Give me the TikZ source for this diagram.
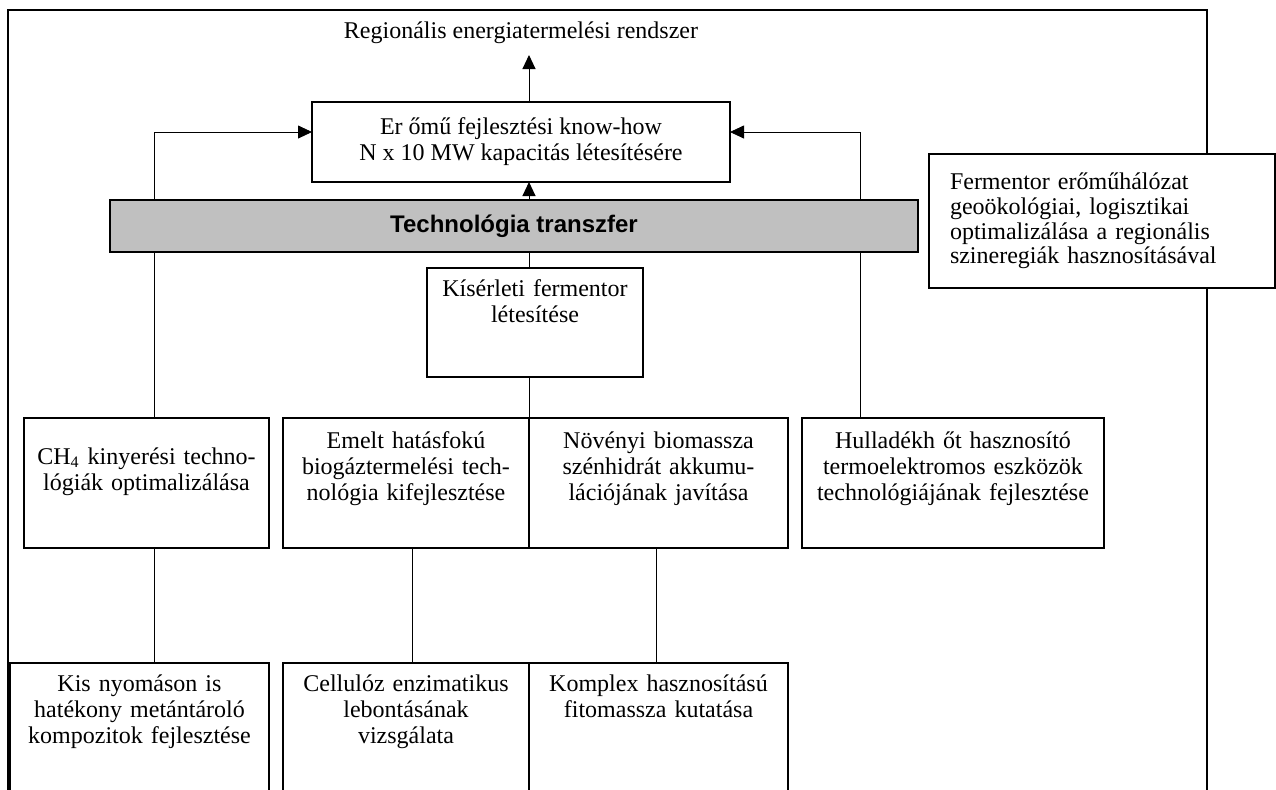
\documentclass[tikz,border=0pt]{standalone}
\usepackage{fontspec}
\setmainfont{Liberation Serif}
\newfontfamily\arialfont{Liberation Sans}
\usepackage{tikz}
\usetikzlibrary{positioning,arrows.meta,backgrounds}
\definecolor{bargray}{RGB}{192,192,192}
\tikzset{block/.style={draw,line width=0.6pt,inner sep=0pt,outer sep=0pt,align=center,font=\fontsize{12}{13}\selectfont},
         cell/.style={block,text width=#1,text height=15pt,text depth=50pt},
         lowcell/.style={cell=#1,text height=14pt,text depth=56pt},
         line/.style={-{Triangle[length=7pt,width=6.5pt]}}
}

\begin{document}
\begin{tikzpicture}[x=1pt,y=1pt,line width=0.5pt]
  \useasboundingbox (0,0) rectangle (638,-394.5);
  \draw[line width=1pt] (4,-400) |- (603.5,-5) -- (603.5,-400);
  \node[block,fill=bargray,minimum width=404pt,minimum height=26pt,anchor=north west,
        font=\arialfont\bfseries\fontsize{12}{13}\selectfont] (transfer) at (55,-100) {Technológia transzfer};
  \node[block,minimum width=209pt,minimum height=40pt,above=9pt of transfer,xshift=3.5pt] (eromu)
       {Er őmű fejlesztési know-how\\N x 10 MW kapacitás létesítésére};
  \node[block,draw=none,inner sep=5.5pt,above=23.5pt of eromu] (title) {Regionális energiatermelési rendszer};
  \node[cell=108pt,text height=14pt,text depth=40.5pt,below=8pt of transfer,xshift=10.5pt] (kiserleti)
       {Kísérleti fermentor\\létesítése};
  \node[block,fill=white,align=left,text width=152pt,inner xsep=10.5pt,minimum height=67pt,anchor=north west,
        font=\fontsize{12}{12.4}\selectfont] (fermentor) at (464.5,-77)
       {Fermentor erőműhálózat\\geoökológiai, logisztikai\\optimalizálása a regionális\\szineregiák hasznosításával};
  % middle row
  \node[cell=122.5pt,text height=23pt,text depth=42pt,anchor=north west] (ch4) at (12,-209)
       {CH\textsubscript{4} kinyerési techno-\\lógiák optimalizálása};
  \node[cell=123pt,right=7pt of ch4] (emelt) {Emelt hatásfokú\\biogáztermelési tech-\\nológia kifejlesztése};
  \node[cell=129.5pt,right=0pt of emelt] (novenyi) {Növényi biomassza\\szénhidrát akkumu-\\lációjának javítása};
  \node[cell=151pt,right=7pt of novenyi] (hulladek) {Hulladékh őt hasznosító\\termoelektromos eszközök\\technológiájának fejlesztése};
  % bottom row
  \node[lowcell=123pt,below=57.5pt of emelt] (cellulo) {Cellulóz enzimatikus\\lebontásának\\vizsgálata};
  \node[lowcell=129.5pt,right=0pt of cellulo] (komplex) {Komplex hasznosítású\\fitomassza kutatása};
  \node[lowcell=129.5pt,left=7pt of cellulo] (kisnyomas) {Kis nyomáson is\\hatékony metántároló\\kompozitok fejlesztése};

  \draw[line] (transfer.north -| emelt.north east) -- (eromu.south -| emelt.north east);
  \draw[line] (eromu.north -| emelt.north east) -- (title.south -| emelt.north east);
  \draw (kiserleti.north -| emelt.north east) -- (transfer.south -| emelt.north east);
  \draw (kiserleti.south -| emelt.north east) -- (emelt.north east);
  \begin{scope}[on background layer]
    \draw[line] ([xshift=3.75pt]ch4.north) |- ([yshift=5pt]eromu.west);
    \draw[line] ([xshift=-46.5pt]hulladek.north) |- ([yshift=5pt]eromu.east);
  \end{scope}
  \draw ([xshift=3.75pt]ch4.south) -- ([xshift=3.75pt]ch4.south |- kisnyomas.north);
  \draw ([xshift=3pt]emelt.south) -- ([xshift=3pt]emelt.south |- cellulo.north);
  \draw ([xshift=-1.25pt]novenyi.south) -- ([xshift=-1.25pt]novenyi.south |- komplex.north);
\end{tikzpicture}
\end{document}
